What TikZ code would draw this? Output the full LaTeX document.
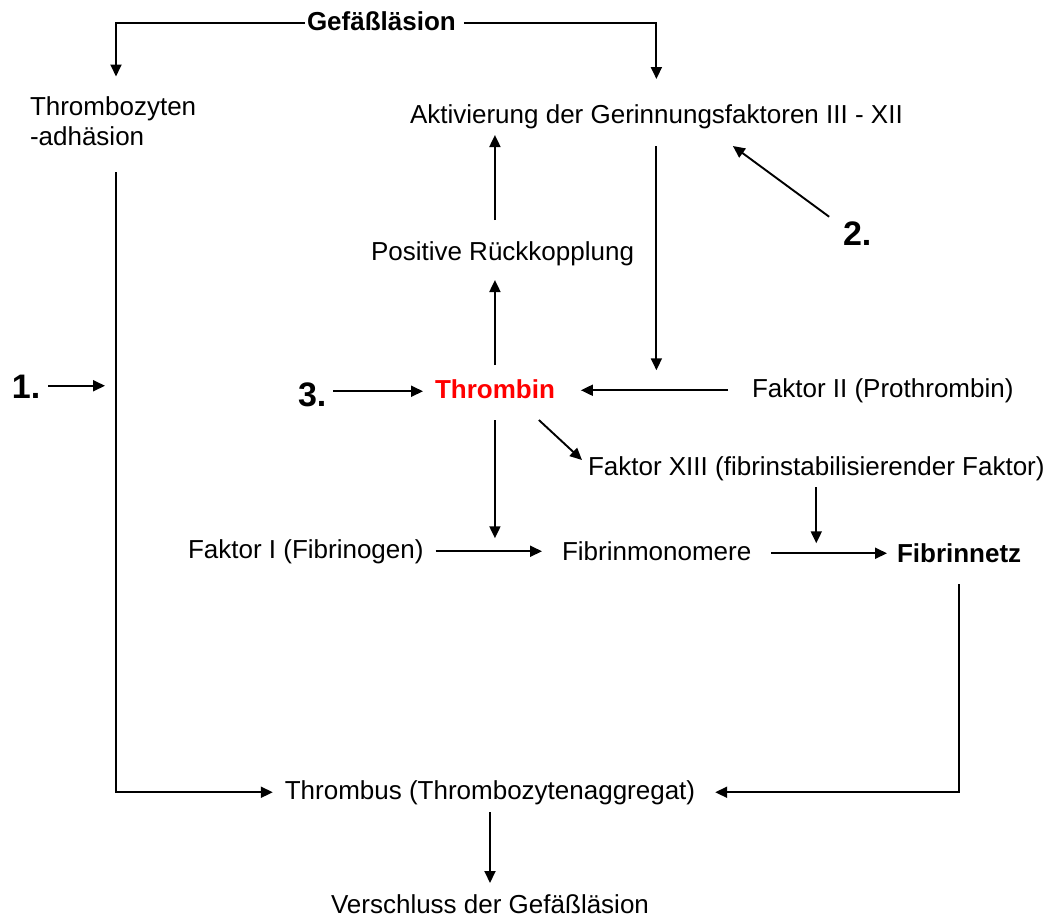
\documentclass[tikz,border=0pt]{standalone}
\usepackage{fontspec}
\setmainfont{Liberation Sans}
\usetikzlibrary{arrows.meta,calc}
\begin{document}
\begin{tikzpicture}[x=1pt,y=-1pt,
  lbl/.style={inner sep=0pt, outer sep=0pt, font=\fontsize{26}{30}\selectfont, text height=19pt, text depth=5.5pt, anchor=base west},
  bld/.style={lbl, font=\fontsize{26}{30}\selectfont\bfseries},
  num/.style={inner sep=0pt, outer sep=0pt, font=\fontsize{34}{40}\selectfont\bfseries, text height=24.5pt, text depth=0pt, anchor=base west},
  arr/.style={line width=1.9pt, -{Triangle[length=12pt,width=11pt]}}]
\useasboundingbox (0,0) rectangle (1050,919);
\fill[white] (0,0) rectangle (1050,919);
% nodes
\node[bld] (gef) at (307,30) {Gefäßläsion};
\node[inner sep=0pt, outer sep=0pt, font=\fontsize{26}{30}\selectfont, text width=172pt, align=left, anchor=north west] (adh) at (30,96.5) {Thrombozyten\\-adhäsion};
\node[lbl] (akt) at (410,123) {Aktivierung der Gerinnungsfaktoren III - XII};
\node[lbl] (pos) at (371,260) {Positive Rückkopplung};
\node[num] (two) at (843,245) {2.};
\node[num] (one) at (12,398) {1.};
\node[num] (three) at (298,406) {3.};
\node[bld, text=red] (thr) at (435,398) {Thrombin};
\node[lbl] (f2) at (752,397) {Faktor II (Prothrombin)};
\node[lbl] (f13) at (588,475) {Faktor XIII (fibrinstabilisierender Faktor)};
\node[lbl] (f1) at (188,558) {Faktor I (Fibrinogen)};
\node[lbl] (fm) at (562,560) {Fibrinmonomere};
\node[bld] (fn) at (897,562) {Fibrinnetz};
\node[lbl, anchor=base] (thb) at (490,799) {Thrombus (Thrombozytenaggregat)};
\node[lbl, anchor=base] (ver) at (490,913) {Verschluss der Gefäßläsion};
% connectors
\draw[arr, shorten <=2pt, shorten >=20pt] (gef.west) -| (adh.north);
\draw[arr, shorten <=8pt, shorten >=25pt] (gef.east) -| (akt.north);
\draw[arr, shorten <=21pt, shorten >=6.5pt] (pos.north -| thr.north) -- (akt.south -| thr.north);
\draw[arr, shorten <=14pt, shorten >=14.5pt] (thr.north) -- (thr.north |- pos.south);
\draw[arr, shorten <=17.5pt, shorten >=21pt] (akt.south) -- (akt.south |- thr.west);
\draw[arr] ($(two.center)+(-28,-16)$) -- ($(akt.south)+(76.5,17.5)$);
\draw[arr, shorten <=7pt, shorten >=12pt] (three.east |- thr.west) -- (thr.west);
\draw[arr, shorten <=8pt, shorten >=11pt] (one.east) -- (one.east -| adh.south);
\draw[arr, shorten <=26.5pt, shorten >=12pt] (adh.south) |- (thb.west);
\draw[arr, shorten <=24pt, shorten >=26pt] (f2.west) -- (f2.west -| thr.east);
\draw[arr] ($(thr.south east)+(-16,16.5)$) -- ($(f13.north west)+(-6,4)$);
\draw[arr, shorten <=16.5pt, shorten >=15pt] (thr.south) -- (thr.south |- fm.west);
\draw[arr, shorten <=6.5pt, shorten >=12pt] (f13.south) -- (f13.south |- fn.west);
\draw[arr, shorten <=12pt, shorten >=20pt] (f1.east) -- (f1.east -| fm.west);
\draw[arr, shorten <=20pt, shorten >=10pt] (fm.east) -- (fm.east -| fn.west);
\draw[arr, shorten <=16.5pt, shorten >=20pt] (fn.south) |- (thb.east);
\draw[arr, shorten <=7.5pt, shorten >=11pt] (thb.south) -- (ver.north);
\end{tikzpicture}
\end{document}
